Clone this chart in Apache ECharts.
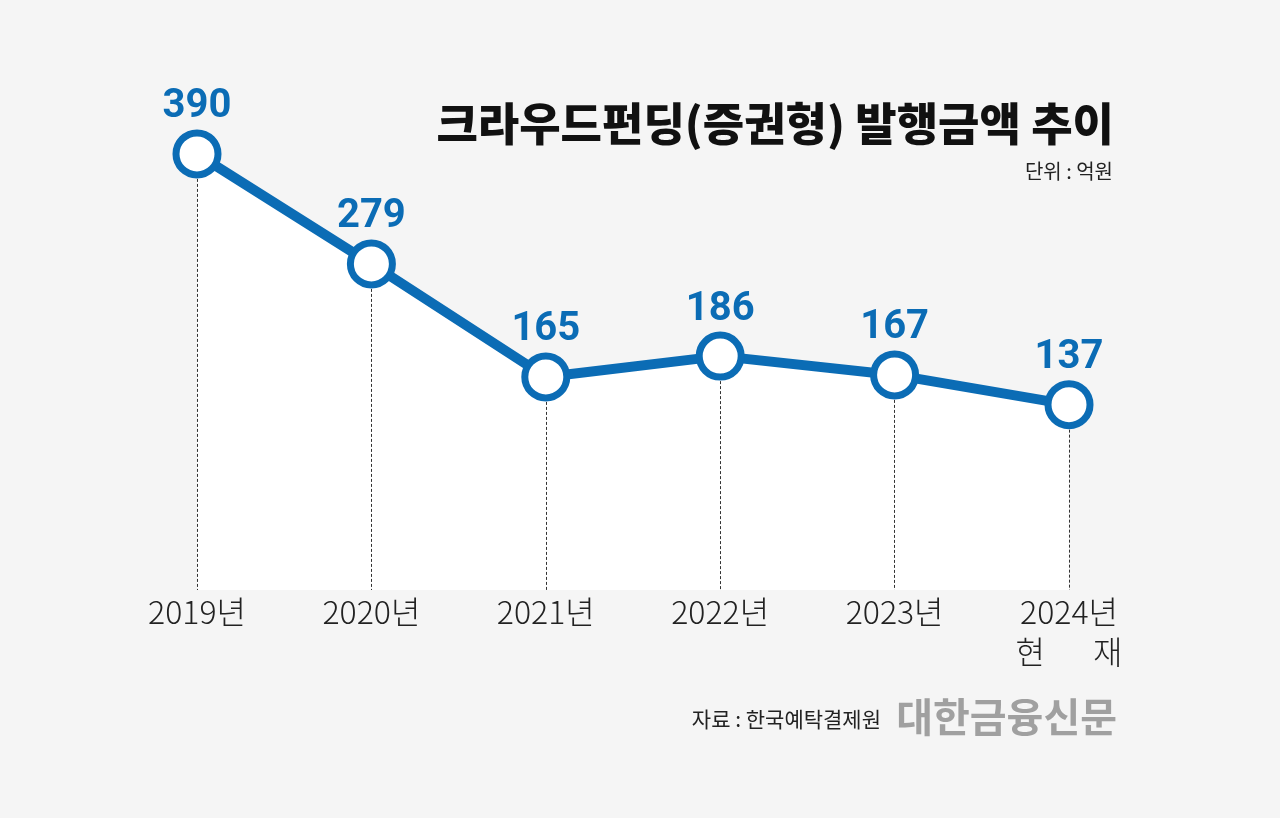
<!DOCTYPE html>
<html>
<head>
<meta charset="utf-8">
<script src="https://cdn.jsdelivr.net/npm/echarts@6/dist/echarts.min.js"></script>
<style>
html, body { margin: 0; padding: 0; background: #f5f5f5; }
#chart { width: 1280px; height: 818px; }
</style>
</head>
<body>
<div id="chart"></div>
<script>
var years = ['2019년', '2020년', '2021년', '2022년', '2023년', '2024년\n현\u3000\u2002재'];
var amounts = [390, 279, 165, 186, 167, 137];
var yMin = -50;
var yMax = 400;

var blue = '#0b6cb5';
var krFont = '"Noto Sans CJK KR", "Noto Sans", sans-serif';

var myChart = echarts.init(document.getElementById('chart'));

// dashed drop lines from each point to the baseline
var dropLines = [];
for (var i = 0; i < years.length; i++) {
    dropLines.push([
        { coord: [years[i], amounts[i]] },
        { coord: [years[i], yMin] }
    ]);
}

var option = {
    backgroundColor: '#f5f5f5',
    animation: false,
    title: [{
        text: '크라우드펀딩(증권형) 발행금액 추이',
        right: 161,
        top: 96,
        textStyle: {
            fontFamily: krFont,
            fontSize: 45,
            fontWeight: 900,
            color: '#111'
        }
    }, {
        text: '단위 : 억원',
        right: 162,
        top: 156,
        textStyle: {
            fontFamily: krFont,
            fontSize: 20,
            fontWeight: 'normal',
            color: '#222'
        }
    }, {
        text: '자료 : 한국예탁결제원',
        right: 394,
        top: 704,
        textStyle: {
            fontFamily: krFont,
            fontSize: 21,
            fontWeight: 'normal',
            color: '#222'
        }
    }, {
        text: '대한금융신문',
        right: 158,
        top: 692,
        textStyle: {
            fontFamily: krFont,
            fontSize: 40,
            fontWeight: 'bold',
            color: '#a0a0a0'
        }
    }],
    grid: {
        left: 197,
        right: 211,
        top: 144,
        bottom: 228
    },
    xAxis: {
        type: 'category',
        data: years,
        boundaryGap: false,
        axisLine: { show: false },
        axisTick: { show: false },
        splitLine: { show: false },
        axisLabel: {
            margin: 2,
            fontFamily: krFont,
            fontSize: 32,
            fontWeight: 300,
            color: '#222',
            lineHeight: 40
        }
    },
    yAxis: {
        type: 'value',
        min: yMin,
        max: yMax,
        show: false,
        splitLine: { show: false }
    },
    series: [{
        // white area under the line, with the dashed drop lines
        type: 'line',
        data: amounts,
        showSymbol: false,
        lineStyle: { width: 0, opacity: 0 },
        areaStyle: {
            color: '#ffffff',
            opacity: 1,
            origin: 'start'
        },
        z: 1,
        markLine: {
            silent: true,
            z: 2,
            symbol: ['none', 'none'],
            label: { show: false },
            lineStyle: {
                color: '#333',
                width: 1,
                type: [3, 2]
            },
            data: dropLines
        }
    }, {
        type: 'line',
        data: amounts,
        symbol: 'circle',
        symbolSize: 42,
        itemStyle: {
            color: '#ffffff',
            borderColor: blue,
            borderWidth: 7
        },
        lineStyle: {
            color: blue,
            width: 10
        },
        label: {
            show: true,
            position: 'top',
            distance: 2,
            fontFamily: 'Roboto, sans-serif',
            fontSize: 40,
            fontWeight: 'bold',
            color: blue
        },
        z: 3
    }]
};

myChart.setOption(option);
</script>
</body>
</html>
